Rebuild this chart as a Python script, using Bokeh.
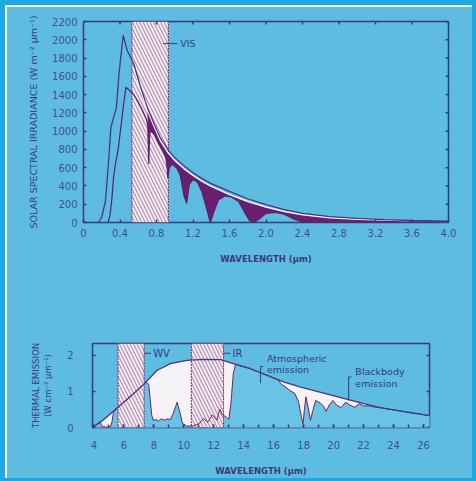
import math
from bokeh.plotting import figure
from bokeh.models import FixedTicker
from bokeh.layouts import column
from bokeh.embed import file_html
from bokeh.resources import INLINE
from bokeh.core.properties import value

# ---------------- top panel data (solar spectral irradiance) ----------------
toa_wl = [0.16, 0.20, 0.24, 0.27, 0.30, 0.33, 0.36, 0.39, 0.435, 0.48, 0.55, 0.62, 0.70,
          0.77, 0.84, 0.93, 1.0, 1.1, 1.2, 1.3, 1.4, 1.6, 1.8, 2.0, 2.2, 2.4, 2.7, 3.0,
          3.3, 3.6, 4.0]
toa_val = [0, 60, 230, 600, 1040, 1150, 1250, 1640, 2050, 1880, 1740, 1500, 1260,
           1090, 930, 790, 710, 620, 545, 480, 425, 340, 260, 195, 140, 100, 65, 45,
           32, 22, 14]

bb_wl = [0.55, 0.62, 0.70, 0.77, 0.84, 0.93, 1.0, 1.1, 1.2, 1.3, 1.4, 1.6, 1.8, 2.0,
         2.2, 2.4, 2.7, 3.0, 3.3, 3.6, 4.0]
bb_val = [1700, 1470, 1230, 1060, 900, 760, 680, 590, 515, 450, 395, 305, 230, 170,
          120, 85, 52, 36, 26, 18, 11]

sfc_wl = [0.27, 0.29, 0.31, 0.33, 0.35, 0.38, 0.41, 0.44, 0.465, 0.50, 0.55, 0.60,
          0.65, 0.69, 0.705, 0.715, 0.725, 0.74, 0.78, 0.82, 0.86, 0.90, 0.915, 0.925,
          0.94, 0.97, 1.02, 1.06, 1.10, 1.13, 1.16, 1.20, 1.25, 1.30, 1.35, 1.39, 1.43,
          1.48, 1.55, 1.62, 1.70, 1.76, 1.82, 1.87, 1.93, 2.0, 2.1, 2.2, 2.3, 2.4, 2.6,
          3.0, 3.4, 3.55, 3.62, 3.7, 4.0]
sfc_val = [0, 80, 250, 500, 640, 800, 1050, 1300, 1480, 1450, 1400, 1320,
           1220, 1130, 1050, 640, 980, 1000, 960, 870, 800, 720, 620, 480,
           600, 640, 600, 520, 300, 210, 420, 470, 440, 330, 150, 0, 120,
           250, 290, 280, 230, 120, 20, 0, 40, 100, 110, 90, 40, 5, 0,
           0, 0, 2, 14, 16, 11]

vis_band = [0.53, 0.93]
top_xticks = [0, 0.4, 0.8, 1.2, 1.6, 2.0, 2.4, 2.8, 3.2, 3.6, 4.0]
top_xlabels = ["0", "0.4", "0.8", "1.2", "1.6", "2.0", "2.4", "2.8", "3.2", "3.6", "4.0"]
top_yticks = [0, 200, 400, 600, 800, 1000, 1200, 1400, 1600, 1800, 2000, 2200]

# ---------------- bottom panel data (thermal emission) ----------------
planck_wl = [3.9, 4.6, 5.6, 6.5, 7.35, 8.2, 9.1, 10.2, 11.3, 12.45, 13.3, 14.45, 15.6,
             16.7, 17.8, 19.9, 21.5, 23.1, 24.7, 26.4]
planck_val = [0.0, 0.2, 0.56, 0.89, 1.21, 1.58, 1.77, 1.86, 1.89, 1.88, 1.77, 1.63, 1.44,
              1.26, 1.12, 0.89, 0.72, 0.55, 0.44, 0.33]

atm_wl = [3.9, 4.4, 4.55, 4.8, 5.1, 5.2, 5.3, 5.6, 6.5, 7.35, 7.5, 7.65, 7.75, 7.85,
          7.95, 8.15, 8.3, 8.5, 8.7, 8.9, 9.1, 9.3, 9.55, 9.75, 9.9, 10.2, 10.6, 11.0,
          11.3, 11.6, 11.9, 12.2, 12.4, 12.6, 12.8, 13.0, 13.15, 13.3, 13.45, 14.45,
          15.6, 16.3, 16.5, 16.8, 17.1, 17.4, 17.65, 17.85, 17.95, 18.05, 18.15, 18.3,
          18.45, 18.6, 18.8, 19.1, 19.35, 19.5, 19.7, 19.95, 20.2, 20.5, 20.8, 21.1,
          21.4, 21.7, 22.0, 22.4, 22.8, 23.1, 24.7, 26.4]
atm_val = [0.0, 0.16, 0.03, 0.01, 0.02, 0.15, 0.42, 0.56, 0.89, 1.21, 1.25, 1.2, 0.8, 0.35,
           0.2, 0.22, 0.18, 0.24, 0.2, 0.24, 0.22, 0.4, 0.7, 0.4, 0.12, 0.04, 0.04, 0.1,
           0.25, 0.15, 0.35, 0.2, 0.5, 0.35, 0.3, 0.22, 0.7, 1.5, 1.75, 1.63,
           1.44, 1.32, 1.2, 1.12, 1.02, 0.95, 0.72, 0.3, 0.1, 0.5, 0.85, 0.55,
           0.2, 0.45, 0.75, 0.68, 0.58, 0.45, 0.62, 0.75, 0.62, 0.55, 0.7, 0.62,
           0.56, 0.66, 0.6, 0.6, 0.56, 0.55, 0.44, 0.33]

wv_band = [5.6, 7.35]
ir_band = [10.5, 12.65]
bot_xticks = [4, 6, 8, 10, 12, 14, 16, 18, 20, 22, 24, 26]
bot_xminor = list(range(4, 27))
bot_yticks = [0, 1, 2]

# ---------------- styling ----------------
BG = "#5dbce0"
EDGE = "#1ea7e0"
NAVY = "#3b3a7e"
TICKC = "#44508e"
PURPLE = "#6a1e6e"
WHITE = "#f6f3f6"
BOXFILL = "#f3eaf0"
HATCH = "#9a6f98"
BOXLINE = "#7a2a5e"
FONT = "DejaVu Sans"


def style_axis(ax):
    ax.axis_line_color = None
    ax.major_tick_in = 3
    ax.major_tick_out = 0
    ax.minor_tick_in = 0
    ax.minor_tick_out = 0
    ax.major_tick_line_color = NAVY
    ax.major_tick_line_width = 1.5
    ax.major_label_text_font = FONT
    ax.major_label_text_font_size = "10px"
    ax.major_label_text_color = TICKC
    ax.axis_label_text_font = FONT
    ax.axis_label_text_color = NAVY
    ax.axis_label_text_font_style = "normal"


def style_fig(p):
    p.background_fill_color = BG
    p.border_fill_color = BG
    p.outline_line_color = NAVY
    p.outline_line_width = 1.5
    p.xgrid.visible = False
    p.ygrid.visible = False


# ================= TOP PANEL =================
p1 = figure(width=465, height=271, x_range=(0, 4.0), y_range=(0, 2200),
            output_backend="svg", toolbar_location=None,
            min_border_left=76, min_border_right=24, min_border_top=14,
            min_border_bottom=56)
style_fig(p1)
xa1 = p1.below[0]
ya1 = p1.left[0]
style_axis(xa1)
style_axis(ya1)
xa1.ticker = FixedTicker(ticks=top_xticks)
xa1.major_label_overrides = {t: l for t, l in zip(top_xticks, top_xlabels)}
ya1.ticker = FixedTicker(ticks=top_yticks)
xa1.axis_label = "WAVELENGTH (µm)"
xa1.axis_label_text_font_size = "8.5px"
xa1.axis_label_text_font_style = "bold"
xa1.major_label_standoff = 6
xa1.axis_label_standoff = 14
ya1.axis_label = "SOLAR SPECTRAL IRRADIANCE (W m⁻² µm⁻¹)"
ya1.axis_label_text_font_size = "9.5px"
ya1.major_label_standoff = 6
ya1.axis_label_standoff = 10

# VIS band box
p1.quad(left=[vis_band[0]], right=[vis_band[1]], bottom=[0], top=[p1.y_range.end],
        fill_color=BOXFILL, hatch_pattern="\\", hatch_color=HATCH, hatch_scale=7,
        hatch_weight=0.9, line_color=BOXLINE, line_dash="2 1", line_width=1)

# absorption shading between the smooth curve and the surface curve
fill_x = [w for w in bb_wl if w >= 0.7]
fill_y = [v for w, v in zip(bb_wl, bb_val) if w >= 0.7]
sx = [w for w in sfc_wl if w >= 0.7]
sy = [v for w, v in zip(sfc_wl, sfc_val) if w >= 0.7]
p1.patch(fill_x + sx[::-1], fill_y + sy[::-1], fill_color=PURPLE, line_color=None)

p1.line(bb_wl, bb_val, line_color="#eef6fa", line_width=1.4)
p1.line(sfc_wl, sfc_val, line_color="#5a1f6e", line_width=1.2)
p1.line(toa_wl, toa_val, line_color="#4a3585", line_width=1.3)

# inward tick marks on the top and right edges of the frame
p1.scatter(x=top_xticks, y=[p1.y_range.end] * len(top_xticks), marker="dash",
           angle=math.pi / 2, size=6, line_color=NAVY, line_width=1.5)
p1.scatter(x=[p1.x_range.end] * len(top_yticks), y=top_yticks, marker="dash",
           size=6, line_color=NAVY, line_width=1.5)

# VIS label
p1.segment(x0=[0.87], y0=[1958], x1=[1.03], y1=[1958], line_color=NAVY, line_width=1)
p1.text(x=[1.06], y=[1958], text=["VIS"], text_font=value(FONT), text_font_size="9.5px",
        text_color=NAVY, text_baseline="middle", text_align="left")

# ================= BOTTOM PANEL =================
p2 = figure(width=465, height=200, x_range=(3.9, 26.4), y_range=(0, 2.33),
            output_backend="svg", toolbar_location=None,
            min_border_left=85, min_border_right=43, min_border_top=65,
            min_border_bottom=51)
style_fig(p2)
xa2 = p2.below[0]
ya2 = p2.left[0]
style_axis(xa2)
style_axis(ya2)
xa2.ticker = FixedTicker(ticks=bot_xticks, minor_ticks=bot_xminor)
ya2.ticker = FixedTicker(ticks=bot_yticks)
xa2.minor_tick_in = 3
xa2.minor_tick_line_color = NAVY
xa2.minor_tick_line_width = 1.5
xa2.axis_label = "WAVELENGTH (µm)"
xa2.axis_label_text_font_size = "8.5px"
xa2.axis_label_text_font_style = "bold"
xa2.major_label_standoff = 13
xa2.axis_label_standoff = 14
ya2.axis_label = "THERMAL EMISSION\n(W cm⁻² µm⁻¹)"
ya2.axis_label_text_font_size = "8.5px"
ya2.major_label_standoff = 19
ya2.axis_label_standoff = 11

# white area under blackbody curve, then atmospheric emission
p2.patch(planck_wl + [planck_wl[-1], planck_wl[0]], planck_val + [0, 0],
         fill_color=WHITE, line_color=None)
p2.patch(atm_wl + [atm_wl[-1], atm_wl[0]], atm_val + [0, 0],
         fill_color="#68c3e5", line_color=None)

for band in (wv_band, ir_band):
    p2.quad(left=[band[0]], right=[band[1]], bottom=[0], top=[p2.y_range.end],
            fill_color=BOXFILL, hatch_pattern="\\", hatch_color=HATCH, hatch_scale=7,
            hatch_weight=0.9, line_color=BOXLINE, line_dash="2 1", line_width=1)

p2.line(atm_wl, atm_val, line_color="#6e2358", line_width=1)
p2.line(planck_wl, planck_val, line_color="#4a3585", line_width=1.3)

p2.scatter(x=[p2.x_range.end] * len(bot_yticks), y=bot_yticks, marker="dash",
           size=6, line_color=NAVY, line_width=1.5)

# labels
p2.segment(x0=[7.35, 12.65], y0=[2.06, 2.06], x1=[7.8, 13.1], y1=[2.06, 2.06],
           line_color=NAVY, line_width=1)
p2.text(x=[7.95, 13.25], y=[2.06, 2.06], text=["WV", "IR"], text_font=value(FONT),
        text_font_size="10px", text_color=NAVY, text_baseline="middle", text_align="left")

# bracket markers
p2.segment(x0=[15.12, 15.12, 21.0, 21.0], y0=[1.23, 1.69, 0.75, 1.40],
           x1=[15.12, 15.3, 21.0, 21.18], y1=[1.69, 1.69, 1.40, 1.40],
           line_color=NAVY, line_width=1)
p2.text(x=[15.55, 15.55, 21.45, 21.45], y=[1.91, 1.60, 1.54, 1.22],
        text=["Atmospheric", "emission", "Blackbody", "emission"],
        text_font=value(FONT), text_font_size="9.5px", text_color=NAVY,
        text_baseline="middle", text_align="left")

# nest each figure in its own column so their frames are not aligned together;
# wrap with the page's bright-blue edge and thin white inner rule
inner = column(column(p1), column(p2), spacing=0)
inner.styles = {"background-color": BG, "border-left": "2px solid #f4f8fa",
                "border-top": "2px solid #f4f8fa"}
layout = column(inner, spacing=0)
layout.styles = {"background-color": EDGE, "border-style": "solid",
                 "border-color": EDGE, "border-width": "5px 4px 3px 5px"}
open("out.html", "w").write(file_html(layout, INLINE))
